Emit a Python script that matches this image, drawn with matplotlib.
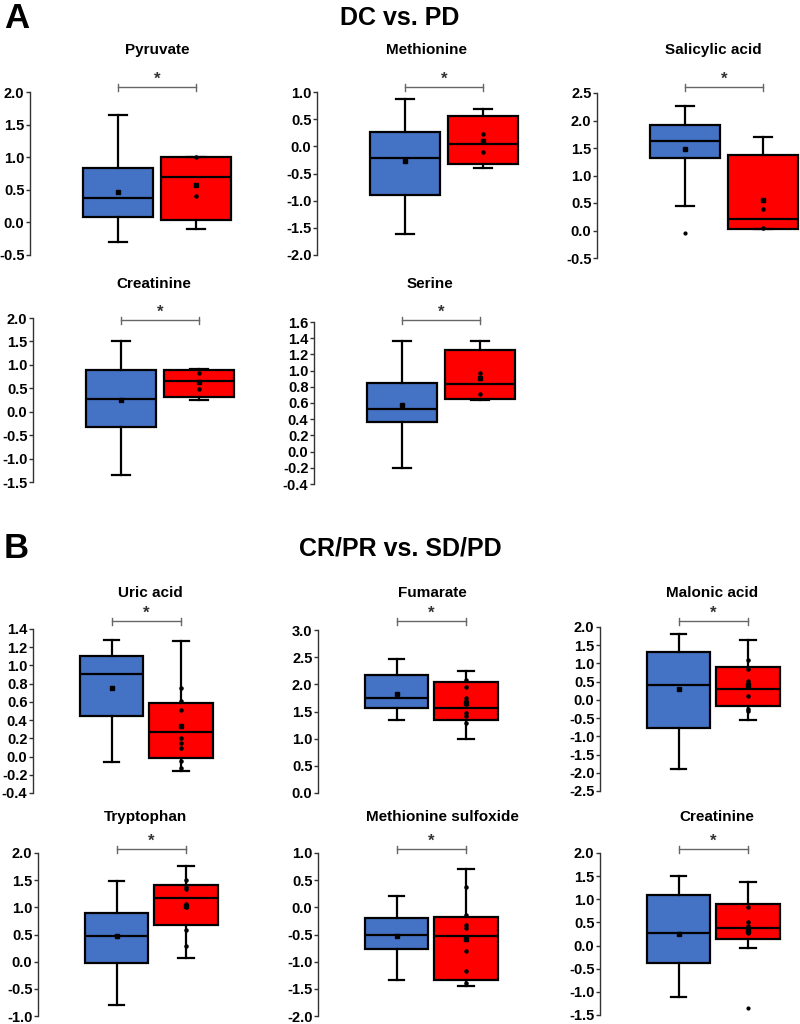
import numpy as np
import matplotlib.pyplot as plt
from matplotlib.transforms import blended_transform_factory

plt.rcParams['font.family'] = ['Liberation Sans', 'DejaVu Sans']

# panel names, in reading order
names = ['Pyruvate', 'Methionine', 'Salicylic acid', 'Creatinine', 'Serine',
         'Uric acid', 'Fumarate', 'Malonic acid',
         'Tryptophan', 'Methionine sulfoxide', 'Creatinine']

# box stats: (whisker low, q1, median, q3, whisker high)
blue_box = [(-0.30, 0.08, 0.37, 0.84, 1.64),
            (-1.62, -0.90, -0.22, 0.27, 0.87),
            (0.45, 1.32, 1.62, 1.92, 2.26),
            (-1.34, -0.33, 0.28, 0.90, 1.51),
            (-0.20, 0.36, 0.52, 0.85, 1.37),
            (-0.06, 0.44, 0.91, 1.10, 1.28),
            (1.34, 1.57, 1.75, 2.18, 2.47),
            (-1.90, -0.76, 0.41, 1.32, 1.81),
            (-0.80, -0.02, 0.48, 0.89, 1.48),
            (-1.34, -0.76, -0.50, -0.20, 0.21),
            (-1.11, -0.37, 0.27, 1.09, 1.51)]
blue_mean = [0.46, -0.27, 1.49, 0.26, 0.58, 0.75, 1.82, 0.29, 0.47, -0.52, 0.24]
blue_fliers = [[], [], [-0.04], [], [], [], [], [], [], [], []]

red_box = [(-0.10, 0.03, 0.70, 1.00, 1.00),
           (-0.39, -0.32, 0.05, 0.55, 0.68),
           (0.03, 0.03, 0.21, 1.38, 1.70),
           (0.26, 0.32, 0.66, 0.90, 0.92),
           (0.64, 0.65, 0.84, 1.26, 1.36),
           (-0.16, -0.02, 0.27, 0.59, 1.27),
           (0.99, 1.34, 1.57, 2.05, 2.24),
           (-0.54, -0.17, 0.30, 0.90, 1.65),
           (0.07, 0.68, 1.17, 1.42, 1.76),
           (-1.44, -1.33, -0.53, -0.18, 0.70),
           (-0.06, 0.15, 0.39, 0.89, 1.38)]
red_mean = [0.58, 0.10, 0.55, 0.63, 0.91, 0.34, 1.65, 0.40, 1.03, -0.58, 0.31]
red_fliers = [[], [], [], [], [], [], [], [], [], [], [-1.35]]
red_points = [[1.00, 0.40],
              [0.22, -0.10],
              [0.40, 0.05],
              [0.82, 0.49],
              [0.97, 0.71],
              [0.75, 0.61, 0.51, 0.34, 0.20, 0.15, 0.09, -0.05, -0.13],
              [2.08, 1.96, 1.74, 1.70, 1.64, 1.47, 1.42, 1.29],
              [1.09, 0.86, 0.52, 0.35, 0.12, -0.24, -0.31],
              [1.50, 1.38, 1.33, 1.06, 1.00, 0.58, 0.28],
              [0.38, -0.14, -0.32, -0.38, -0.81, -1.18, -1.39],
              [0.83, 0.50, 0.43, 0.27]]

# y axis ranges and tick steps
y_lo = [-0.5, -2.0, -0.5, -1.5, -0.4, -0.4, 0.0, -2.5, -1.0, -2.0, -1.5]
y_hi = [2.0, 1.0, 2.5, 2.0, 1.6, 1.4, 3.0, 2.0, 2.0, 1.0, 2.0]
y_step = [0.5, 0.5, 0.5, 0.5, 0.2, 0.2, 0.5, 0.5, 0.5, 0.5, 0.5]

# layout in pixels: spine x, axes top, axes bottom, row index
W, H = 800, 1024
panel_px = [(30, 92, 255, 0), (317, 92, 255, 0), (597, 93, 258, 0),
            (33, 318, 482, 1), (314, 322, 484, 1),
            (33, 629, 793, 2), (318, 630, 793, 2), (600, 627, 791, 2),
            (38, 853, 1016, 3), (318, 853, 1016, 3), (600, 853, 1015, 3)]
row_geom = [(88, 78), (88, 78), (78.5, 69.5), (78.5, 69.5)]  # spine->box1 offset, box spacing
title_x = [157, 427, 713, 154, 430, 150, 432, 712, 145, 442, 717]
title_y = [50, 284, 593, 817]
bracket_y = [87, 320, 621, 849]

BLUE = '#4472C4'
RED = '#FF0000'

fig = plt.figure(figsize=(8, 10.24), dpi=100)


def make_stats(box, mean, fliers):
    lo, q1, med, q3, hi = box
    return dict(whislo=lo, q1=q1, med=med, q3=q3, whishi=hi, mean=mean, fliers=fliers)


for i, name in enumerate(names):
    sx, top, bot, row = panel_px[i]
    off, sp = row_geom[row]
    x0 = 1 - off / sp
    x1 = 2.55
    ax = fig.add_axes([sx / W, 1 - bot / H, (x1 - x0) * sp / W, (bot - top) / H])

    stats = [make_stats(blue_box[i], blue_mean[i], blue_fliers[i]),
             make_stats(red_box[i], red_mean[i], red_fliers[i])]
    bp = ax.bxp(stats, positions=[1, 2], widths=0.91, patch_artist=True,
                showmeans=True, capwidths=0.22,
                boxprops=dict(edgecolor='black', linewidth=1.6),
                medianprops=dict(color='black', linewidth=1.6),
                whiskerprops=dict(color='black', linewidth=1.6),
                capprops=dict(color='black', linewidth=1.6),
                meanprops=dict(marker='s', markerfacecolor='black', markeredgecolor='black', markersize=3),
                flierprops=dict(marker='o', markerfacecolor='black', markeredgecolor='black', markersize=2))
    for patch, c in zip(bp['boxes'], [BLUE, RED]):
        patch.set_facecolor(c)
    ax.scatter(np.full(len(red_points[i]), 2), red_points[i], s=5, color='black', zorder=4)

    ax.set_xlim(x0, x1)
    ax.set_ylim(y_lo[i], y_hi[i])
    ticks = np.arange(y_lo[i], y_hi[i] + y_step[i] / 2, y_step[i])
    ax.set_yticks(ticks)
    ax.set_yticklabels([f'{t:.1f}' for t in ticks], fontweight='bold', fontsize=10.5)
    ax.set_xticks([])
    for s in ['top', 'right', 'bottom']:
        ax.spines[s].set_visible(False)
    ax.spines['left'].set_color('#333333')
    ax.spines['left'].set_linewidth(1)
    ax.tick_params(axis='y', direction='out', length=3, width=1, color='#333333', pad=1)
    ax.set_facecolor('none')

    # title and significance bracket
    fig.text(title_x[i] / W, 1 - title_y[row] / H, name, ha='center', va='center',
             fontsize=11, fontweight='bold')
    trans = blended_transform_factory(ax.transData, fig.transFigure)
    by = 1 - bracket_y[row] / H
    d = 3.5 / H
    ax.plot([1, 2], [by, by], transform=trans, color='#666666', lw=1, clip_on=False)
    ax.plot([1, 1], [by - d, by + d], transform=trans, color='#666666', lw=1, clip_on=False)
    ax.plot([2, 2], [by - d, by + d], transform=trans, color='#666666', lw=1, clip_on=False)
    ax.text(1.5, by + 0.5 / H, '*', transform=trans, ha='center', va='bottom', fontsize=12,
            fontweight='bold', color='#333333')

# section headings
fig.text(4 / W, 1 - 18 / H, 'A', fontsize=25, fontweight='bold', ha='left', va='center')
fig.text(400 / W, 1 - 18 / H, 'DC vs. PD', fontsize=18, fontweight='bold', ha='center', va='center')
fig.text(4 / W, 1 - 548 / H, 'B', fontsize=25, fontweight='bold', ha='left', va='center')
fig.text(400 / W, 1 - 548 / H, 'CR/PR vs. SD/PD', fontsize=18, fontweight='bold', ha='center', va='center')

fig.savefig('out.png', dpi=100, facecolor='white')
